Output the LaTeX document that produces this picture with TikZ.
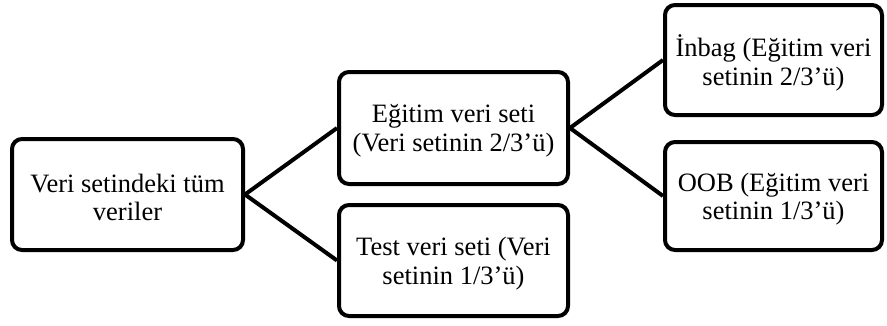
\documentclass[tikz,border=0pt]{standalone}
\usepackage{fontspec}
\setmainfont{Liberation Serif}
\begin{document}
\begin{tikzpicture}[x=1pt,y=-1pt,
  box/.style={draw=black, line width=4pt, rounded corners=10pt, inner sep=0pt},
  txt/.style={align=center, inner sep=0pt, yshift=-3pt, font=\fontsize{26.5}{28.5}\selectfont},
  link/.style={draw=black, line width=4pt}]
\useasboundingbox (0,0) rectangle (887,325);
\node[box, minimum width=231pt, minimum height=111pt] (all) at (127.5,194.5) {};
\node[box, minimum width=229pt, minimum height=112pt] (train) at (453.5,128) {};
\node[box, minimum width=229pt, minimum height=111pt] (test) at (453.5,260.5) {};
\node[box, minimum width=217pt, minimum height=110pt] (inbag) at (773.5,60) {};
\node[box, minimum width=217pt, minimum height=108pt] (oob) at (773.5,196) {};
\node[txt] (allt) at (all.center) {Veri setindeki tüm\\veriler};
\node[txt] (traint) at (train.center) {Eğitim veri seti\\(Veri setinin 2/3’ü)};
\node[txt] (testt) at (test.center) {Test veri seti (Veri\\setinin 1/3’ü)};
\node[txt] (inbagt) at (inbag.center) {İnbag (Eğitim veri\\setinin 2/3’ü)};
\node[txt] (oobt) at (oob.center) {OOB (Eğitim veri\\setinin 1/3’ü)};
\draw[link] (all.east) -- (train.west);
\draw[link] (all.east) -- (test.west);
\draw[link] (train.east) -- (inbag.west);
\draw[link] (train.east) -- (oob.west);
\end{tikzpicture}
\end{document}
